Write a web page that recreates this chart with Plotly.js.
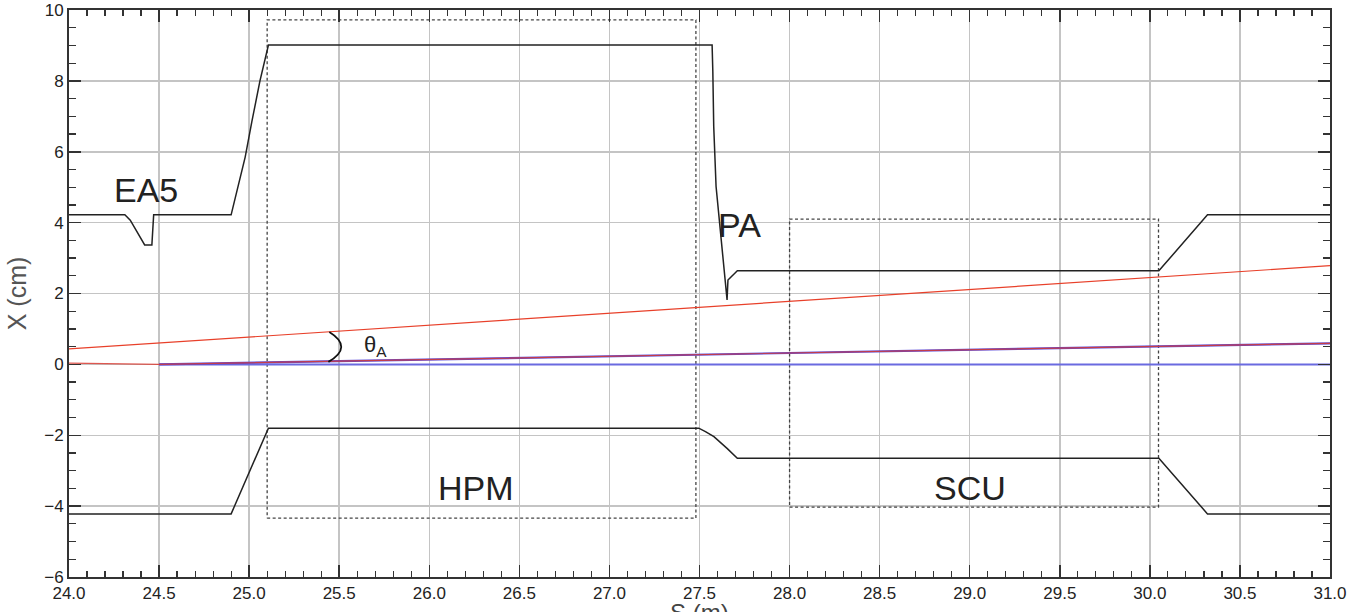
<!DOCTYPE html>
<html>
<head>
<meta charset="utf-8">
<script src="https://cdn.plot.ly/plotly-3.0.1.min.js"></script>
<style>html,body{margin:0;padding:0;background:#fff;}#chart{width:1351px;height:612px;}</style>
</head>
<body>
<div id="chart"></div>
<script>
// Upper aperture (black)
const upperS = [24.0, 24.31, 24.34, 24.42, 24.46, 24.47, 24.90, 24.978, 25.015, 25.06, 25.107, 27.570, 27.574, 27.579, 27.592, 27.62, 27.644, 27.653, 27.658, 27.71, 30.05, 30.32, 31.0];
const upperX = [4.22, 4.22, 4.07, 3.37, 3.37, 4.22, 4.22, 5.85, 6.85, 8.0, 9.01, 9.01, 8.26, 6.71, 5.02, 3.51, 2.38, 1.82, 2.38, 2.64, 2.64, 4.22, 4.22];
// Lower aperture (black)
const lowerS = [24.0, 24.90, 25.107, 27.496, 27.533, 27.58, 27.653, 27.71, 30.05, 30.32, 31.0];
const lowerX = [-4.22, -4.22, -1.80, -1.80, -1.90, -2.04, -2.37, -2.65, -2.65, -4.22, -4.22];
// Red trajectories
const redUpperS = [24.0, 31.0];
const redUpperX = [0.435, 2.785];
const redLowerS = [24.0, 24.5, 31.0];
const redLowerX = [0.037, 0.0, 0.595];
// Blue reference lines
const blueAxisS = [24.5, 31.0];
const blueAxisX = [0.0, 0.0];
const blueSlopeS = [24.5, 31.0];
const blueSlopeX = [0.0, 0.595];
// Dashed element boxes
const hpmBoxS = [25.1, 27.48, 27.48, 25.1, 25.1];
const hpmBoxX = [-4.34, -4.34, 9.72, 9.72, -4.34];
const scuBoxS = [28.0, 30.048, 30.048, 28.0, 28.0];
const scuBoxX = [-4.03, -4.03, 4.10, 4.10, -4.03];
// Axis ticks
const xTicks = [24.0, 24.5, 25.0, 25.5, 26.0, 26.5, 27.0, 27.5, 28.0, 28.5, 29.0, 29.5, 30.0, 30.5, 31.0];
const xTickLabels = ['24.0','24.5','25.0','25.5','26.0','26.5','27.0','27.5','28.0','28.5','29.0','29.5','30.0','30.5','31.0'];
const yTicks = [-6, -4, -2, 0, 2, 4, 6, 8, 10];

const boxStyle = {color:'#444', width:1.3, dash:'3px,2.5px'};
const traces = [
  {x:hpmBoxS, y:hpmBoxX, mode:'lines', line:boxStyle, hoverinfo:'skip'},
  {x:scuBoxS, y:scuBoxX, mode:'lines', line:boxStyle, hoverinfo:'skip'},
  {x:blueAxisS, y:blueAxisX, mode:'lines', line:{color:'#6a6ae0', width:2}},
  {x:blueSlopeS, y:blueSlopeX, mode:'lines', line:{color:'#5a4ad8', width:2.2}},
  {x:redUpperS, y:redUpperX, mode:'lines', line:{color:'#e8402a', width:1.2}},
  {x:redLowerS, y:redLowerX, mode:'lines', line:{color:'#d83a30', width:1.2}, opacity:0.85},
  {x:upperS, y:upperX, mode:'lines', line:{color:'#222', width:1.5}},
  {x:lowerS, y:lowerX, mode:'lines', line:{color:'#222', width:1.5}}
];

const annFont = {family:'Liberation Sans, Arial, sans-serif', size:34, color:'#222'};
const layout = {
  width:1351, height:612,
  margin:{l:69, r:21, t:10, b:35},
  paper_bgcolor:'#fff', plot_bgcolor:'#fff',
  showlegend:false,
  font:{family:'Liberation Sans, Arial, sans-serif', color:'#222'},
  xaxis:{
    range:[24, 31], tickvals:xTicks, ticktext:xTickLabels,
    ticks:'inside', ticklen:12, tickwidth:1.5, tickcolor:'#333',
    minor:{dtick:0.1, tick0:24, ticks:'inside', ticklen:6, tickwidth:1.2, tickcolor:'#333', showgrid:false},
    showline:true, linecolor:'#333', linewidth:2, mirror:'ticks',
    showgrid:true, gridcolor:'#c4c4c4', gridwidth:1.5, zeroline:false,
    tickfont:{size:17, color:'#222'}
  },
  yaxis:{
    range:[-6, 10], tickvals:yTicks,
    ticks:'inside', ticklen:12, tickwidth:1.5, tickcolor:'#333',
    minor:{dtick:0.5, tick0:0, ticks:'inside', ticklen:7, tickwidth:1.2, tickcolor:'#333', showgrid:false},
    showline:true, linecolor:'#333', linewidth:2, mirror:'ticks',
    showgrid:true, gridcolor:'#c4c4c4', gridwidth:1.5, zeroline:false,
    tickfont:{size:17, color:'#222'},
    title:{text:'X (cm)', font:{size:25, color:'#555'}, standoff:10}
  },
  shapes:[
    {type:'path', xref:'x', yref:'y', path:'M 25.445,0.915 Q 25.58,0.49 25.44,0.07', line:{color:'#111', width:1.8}}
  ],
  annotations:[
    {x:24.43, y:4.92, text:'EA5', showarrow:false, font:annFont},
    {x:27.72, y:3.93, text:'PA', showarrow:false, font:annFont},
    {x:26.26, y:-3.49, text:'HPM', showarrow:false, font:annFont},
    {x:29.0, y:-3.49, text:'SCU', showarrow:false, font:annFont},
    {x:25.7, y:0.52, text:'θ<sub>A</sub>', showarrow:false, font:{family:'Liberation Sans, Arial, sans-serif', size:22, color:'#222'}},
    {xref:'paper', yref:'paper', x:0.5, y:-0.036, xanchor:'center', yanchor:'top', text:'S (m)', showarrow:false, font:{family:'Liberation Sans, Arial, sans-serif', size:24, color:'#444'}}
  ]
};
Plotly.newPlot('chart', traces, layout, {displayModeBar:false, staticPlot:true});
</script>
</body>
</html>
